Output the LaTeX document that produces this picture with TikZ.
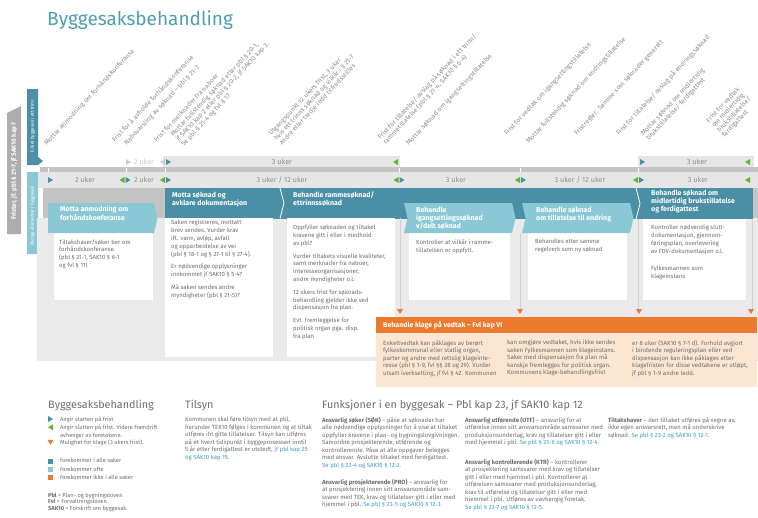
\documentclass[tikz,border=0pt]{standalone}
\usepackage{fontspec}
\setmainfont{Fira Sans}
\usetikzlibrary{positioning}

\definecolor{tealdark}{HTML}{4A8FA5}
\definecolor{teallight}{HTML}{8BC8D5}
\definecolor{titleteal}{HTML}{4E9EB5}
\definecolor{arrgreen}{HTML}{5DB531}
\definecolor{orng}{HTML}{EC7A2E}
\definecolor{peach}{HTML}{FCE6D2}
\definecolor{gbar}{HTML}{E6E6E6}
\definecolor{gmid}{HTML}{C4C4C4}
\definecolor{gpanel}{HTML}{EAEAEA}
\definecolor{gtab}{HTML}{ADADAD}
\definecolor{gline}{HTML}{D2D2D2}
\definecolor{gtxt}{HTML}{6E6E6E}
\definecolor{glbl}{HTML}{8E8E8E}
\definecolor{gfade}{HTML}{CBCBCB}
\definecolor{linkteal}{HTML}{3E9FC0}

\tikzset{
  rarr/.pic={\fill[tealdark] (0,-3) -- (5,0) -- (0,3) -- cycle;},
  larr/.pic={\fill[arrgreen] (0,-3) -- (-5,0) -- (0,3) -- cycle;},
  rarrf/.pic={\fill[gfade] (0,-3) -- (5,0) -- (0,3) -- cycle;},
  larrf/.pic={\fill[gfade] (0,-3) -- (-5,0) -- (0,3) -- cycle;},
  darr/.pic={\fill[orng] (-3,0) -- (3,0) -- (0,5) -- cycle;},
}

\begin{document}
\begin{tikzpicture}[x=1pt, y=-1pt,
  hdr/.style={anchor=north west, inner sep=0pt, align=left, text=white, font=\fontsize{7}{8.3}\selectfont\bfseries},
  txt/.style={anchor=north west, inner sep=0pt, align=left, text=gtxt, font=\fontsize{6}{7.9}\selectfont},
  rlab/.style={anchor=south west, inner sep=0pt, align=left, rotate=47, text=glbl, font=\fontsize{6.6}{7.2}\selectfont},
  uker/.style={inner sep=0pt, text=glbl, font=\fontsize{7.2}{8}\selectfont},
  tabtxt/.style={inner sep=0pt, rotate=90, text=white},
  leg/.style={anchor=north west, inner sep=0pt, align=left, text=gtxt, font=\fontsize{6}{7.5}\selectfont},
  legb/.style={anchor=north west, inner sep=0pt, align=left, text=gtxt, font=\fontsize{5.7}{7.8}\selectfont},
  leghd/.style={anchor=base west, inner sep=0pt, text=gtxt, font=\fontsize{10.8}{12}\selectfont},
]
\useasboundingbox[fill=white] (0,0) rectangle (758,517);

\node[anchor=base west, inner sep=0pt, text=titleteal, font=\fontsize{19}{21}\selectfont] (ttl) at (47,25) {Byggesaksbehandling};

% skrå merkelapper
\node[rlab] (l1) at (48,147) {Mottar anmodning om forhåndskonferanse};
\node[rlab] (l2) at (115,143) {Frist for å avholde forhåndskonferanse};
\node[rlab] (l3) at (128,147) {Nabovarsling av søknad – pbl § 21-3};
\node[rlab] (l4) at (157,143) {Frist for merknader fra naboer};
\node[rlab] (l5) at (185,148) {Mottar fullstendig søknad etter pbl § 20-1,\\jf SAK10 kap 2 eller pbl § 20-2, jf SAK10 kap 3.\\Se pbl § 21-4 og fvl § 17};
\node[rlab] (l6) at (283,147) {Utgangspunkt 12 ukers frist, 3 uker\\hvis ett trinns søknad og vilkår i § 21-7\\andre eller tredje ledd tilfredsstilles};
\node[rlab] (l7) at (387,146) {Frist for tillatelse/ avslag på søknad i ett trinn/\\rammetillatelse (pbl § 21-4, SAK10 § 6-4)};
\node[rlab] (l8) at (410,147) {Mottar søknad om igangsettingstillatelse};
\node[rlab] (l9) at (508,137) {Frist for vedtak om igangsettingstillatelse};
\node[rlab] (l10) at (530,145) {Mottar fullstendig søknad om endringstillatelse};
\node[rlab] (l11) at (578,137) {Fristregler: Samme som søknader generelt};
\node[rlab] (l12) at (620,137) {Frist for tillatelse/ avslag på endringssøknad};
\node[rlab] (l13) at (650,142) {Mottar søknad om midlertidig\\brukstillatelse/ ferdigattest};
\node[rlab] (l14) at (726,139) {Frist for vedtak\\om midlertidig\\brukstillatelse/\\ferdigattest};

% faner til venstre
\fill[gtab] (7,113) -- (21,106) -- (21,234) -- (7,234) -- cycle;
\node[tabtxt, font=\fontsize{6.3}{7}\selectfont\bfseries] (frist) at (14,171) {Frister, jf. pbl § 21-7, jf SAK10 kap 7};
\fill[tealdark] (27,89) -- (38,89) -- (38,157) -- (43,161) -- (38,165) -- (27,165) -- cycle;
\node[tabtxt, font=\fontsize{4.6}{5}\selectfont] (enkel) at (32.5,126) {Enkel byggesak i ett trinn};
\fill[teallight] (27,172) -- (38,172) -- (38,175) -- (43,179.5) -- (38,184) -- (38,254) -- (27,254) -- cycle;
\node[tabtxt, font=\fontsize{4.6}{5}\selectfont] (mulige) at (32.5,216) {Mulige elementer i byggesak};

% tidslinjer
\fill[gbar] (163,156) rectangle (400,167);
\fill[gbar] (638,156) rectangle (754,167);
\fill[gmid] (40,167) rectangle (758,171.5);
\foreach \tx in {48,126,165,399,520,638}
  \draw[white, line width=0.6pt] (\tx,168) -- (\tx,171.5);
\fill[gbar] (38,171.5) rectangle (758,188);

\pic at (126,162) {rarrf};
\node[uker, text=gfade] (w0) at (144,162) {2 uker};
\pic at (165,162) {larrf};
\pic at (166,162) {rarr};
\node[uker] (w1) at (282,162) {3 uker};
\pic at (398,162) {larr};
\pic at (640,162) {rarr};
\node[uker] (w2) at (697,162) {3 uker};
\pic at (750,162) {larr};

\pic at (48,180) {rarr};
\node[uker] (m1) at (85,180) {2 uker};
\pic at (124.5,180) {larr};
\pic at (125.5,180) {rarr};
\node[uker] (m2) at (144,180) {2 uker};
\pic at (165,180) {larr};
\pic at (166,180) {rarr};
\node[uker] (m3) at (282,180) {3 uker / 12 uker};
\pic at (398.5,180) {larr};
\pic at (399.5,180) {rarr};
\node[uker] (m4) at (456,180) {3 uker};
\pic at (520,180) {larr};
\pic at (521,180) {rarr};
\node[uker] (m5) at (580,180) {3 uker / 12 uker};
\pic at (638,180) {larr};
\pic at (639,180) {rarr};
\node[uker] (m6) at (698,180) {3 uker};
\pic at (750,180) {larr};

% bakgrunn og bokser
\fill[gpanel] (37,218) rectangle (758,361);
\fill[gmid] (43,188) rectangle (758,218);
\fill[tealdark] (165,188) rectangle (753,219);
\draw[white, line width=0.8pt] (280,188) -- (284,203) -- (280,218.5);
\draw[white, line width=0.8pt] (636,188) -- (640,203.5) -- (636,219);

\foreach \lx/\ly in {400/218, 520/233, 638.5/219, 752/219}
  \draw[gline, line width=1pt] (\lx,\ly) -- (\lx,311);

\fill[white] (54,233) rectangle (153,300);
\fill[white] (165,218) rectangle (273,357);
\fill[white] (287,218) rectangle (395,357);
\fill[white] (409,233) rectangle (510,300);
\fill[white] (528,233) rectangle (627,300);
\fill[white] (643,219) rectangle (746,300);

\fill[teallight] (48,203) -- (154,203) -- (157.5,218) -- (154,233) -- (48,233) -- cycle;
\fill[teallight] (404,203) -- (512,203) -- (515.5,218) -- (512,233) -- (404,233) -- (407.5,218) -- cycle;
\fill[teallight] (522,203) -- (630,203) -- (633.5,218) -- (630,233) -- (522,233) -- (525.5,218) -- cycle;

\node[hdr] (hA) at (60,206) {Motta anmodning om\\forhåndskonferanse};
\node[hdr] (hB) at (172,191.5) {Motta søknad og\\avklare dokumentasjon};
\node[hdr] (hC) at (293,191.5) {Behandle rammesøknad/\\ettrinnssøknad};
\node[hdr] (hD) at (416,206.5) {Behandle\\igangsettingssøknad\\v/delt søknad};
\node[hdr] (hE) at (536,206.5) {Behandle søknad\\om tillatelse til endring};
\node[hdr] (hF) at (651,189.5) {Behandle søknad om\\midlertidig brukstillatelse\\og ferdigattest};

\node[txt] (bA) at (59,239) {Tiltakshaver/søker ber om\\forhåndskonferanse.\\(pbl § 21-1, SAK10 § 6-1\\og fvl § 11)};
\node[txt] (bB) at (171,220) {Saken registreres, mottatt\\brev sendes. Vurder krav\\ift. vann, avløp, avfall\\og opparbeidelse av vei\\(pbl § 18-1 og § 27-1 til § 27-4).\\[4.5pt]Er nødvendige opplysninger\\innkommet jf SAK10 § 5-4?\\[4.5pt]Må saken sendes andre\\myndigheter (pbl § 21-5)?};
\node[txt] (bC) at (293,225) {Oppfyller søknaden og tiltaket\\kravene gitt i eller i medhold\\av pbl?\\[4.5pt]Vurder tiltakets visuelle kvaliteter,\\samt merknader fra naboer,\\interesseorganisasjoner,\\andre myndigheter o.l.\\[4.5pt]12 ukers frist for søknads-\\behandling gjelder ikke ved\\dispensasjon fra plan.\\[4.5pt]Evt. fremleggelse for\\politisk organ pga. disp.\\fra plan};
\node[txt] (bD) at (416,239) {Kontroller at vilkår i ramme-\\tillatelsen er oppfylt.};
\node[txt] (bE) at (535,239) {Behandles etter samme\\regelverk som ny søknad};
\node[txt] (bF) at (651,225) {Kontroller nødvendig slutt-\\dokumentasjon, gjennom-\\føringsplan, overlevering\\av FDV-dokumentasjon o.l.\\[9pt]Fylkesmannen som\\klageinstans};

% klage
\foreach \kx in {400,520,639,751}
  \pic at (\kx,309) {darr};
\fill[peach] (376,333) rectangle (757,387);
\fill[orng] (376,317) rectangle (757,333);
\node[hdr] (hK) at (383,321.5) {Behandle klage på vedtak – Fvl kap VI};
\node[txt, font=\fontsize{6.1}{7.5}\selectfont] (k1) at (383,340) {Enkeltvedtak kan påklages av berørt\\fylkeskommunal eller statlig organ,\\parter og andre med rettslig klageinte-\\resse (pbl § 1-9, fvl §§ 28 og 29). Vurder\\utsatt iverksetting, jf fvl § 42. Kommunen};
\node[txt, font=\fontsize{6.1}{7.5}\selectfont] (k2) at (507,340) {kan omgjøre vedtaket, hvis ikke sendes\\saken Fylkesmannen som klageinstans.\\Saker med dispensasjon fra plan må\\kanskje fremlegges for politisk organ.\\Kommunens klage-behandlingsfrist};
\node[txt, font=\fontsize{6.1}{7.5}\selectfont] (k3) at (632,340) {er 8 uker (SAK10 § 7-1 d). Forhold avgjort\\i bindende reguleringsplan eller ved\\dispensasjon kan ikke påklages etter\\klagefristen for disse vedtakene er utløpt,\\jf pbl § 1-9 andre ledd.};

% forklaring
\node[leghd] (g1) at (48,408.5) {Byggesaksbehandling};
\node[leghd] (g2) at (185,408.5) {Tilsyn};
\node[leghd] (g3) at (322,408.5) {Funksjoner i en byggesak – Pbl kap 23, jf SAK10 kap 12};

\pic at (48,419) {rarr};
\pic at (53,427.3) {larr};
\pic at (50.5,439.8) {darr};
\fill[tealdark] (48,458.5) rectangle (53,463.5);
\fill[teallight] (48,466.5) rectangle (53,471.5);
\fill[orng] (48,475) rectangle (53,480);
\node[legb] (e1) at (60,416.5) {Angir starten på frist};
\node[legb] (e2) at (60,424.8) {Angir slutten på frist. Videre framdrift\\avhenger av foretakene.};
\node[legb] (e3) at (60,439.8) {Mulighet for klage (3 ukers frist).};
\node[legb, font=\fontsize{5.7}{8.5}\selectfont] (e4) at (60,458.2) {forekommer i alle saker\\forekommer ofte\\forekommer ikke i alle saker};
\node[legb, font=\fontsize{5.7}{6.8}\selectfont] (e5) at (48,492.5) {\textbf{Pbl} = Plan- og bygningsloven\\\textbf{Fvl} = Forvaltningsloven\\\textbf{SAK10} = Forskrift om byggesak};

\node[leg] (t1) at (185,417) {Kommunen skal føre tilsyn med at pbl,\\herunder TEK10 følges i kommunen og at tiltak\\utføres iht gitte tillatelser. Tilsyn kan utføres\\på et hvert tidspunkt i byggeprosessen inntil\\5 år etter ferdigattest er utstedt, \textcolor{linkteal}{jf pbl kap 25}\\\textcolor{linkteal}{og SAK10 kap 15.}};

\node[leg] (f1) at (322,417) {\textbf{Ansvarlig søker (SØK)} – påse at søknader har\\alle nødvendige opplysninger for å vise at tiltaket\\oppfyller kravene i plan- og bygningslovgivningen.\\Samordne prosjekterende, utførende og\\kontrollerende. Påse at alle oppgaver belegges\\med ansvar. Avslutte tiltaket med ferdigattest.\\\textcolor{linkteal}{Se pbl § 23-4 og SAK10 § 12-2.}};
\node[leg] (f2) at (322,479) {\textbf{Ansvarlig prosjekterende (PRO)} – ansvarlig for\\at prosjektering innen sitt ansvarsområde sam-\\svarer med TEK, krav og tillatelser gitt i eller med\\hjemmel i pbl. \textcolor{linkteal}{Se pbl § 23-5 og SAK10 § 12-3.}};
\node[leg] (f3) at (465,417) {\textbf{Ansvarlig utførende (UTF)} – ansvarlig for at\\utførelse innen sitt ansvarsområde samsvarer med\\produksjonsunderlag, krav og tillatelser gitt i eller\\med hjemmel i pbl. \textcolor{linkteal}{Se pbl § 23-6 og SAK10 § 12-4.}};
\node[leg] (f4) at (465,459) {\textbf{Ansvarlig kontrollerende (KTR)} – kontrollerer\\at prosjektering samsvarer med krav og tillatelser\\gitt i eller med hjemmel i pbl. Kontrollerer at\\utførelsen samsvarer med produksjonsunderlag,\\krav til utførelse og tillatelser gitt i eller med\\hjemmel i pbl. Utføres av uavhengig foretak.\\\textcolor{linkteal}{Se pbl § 23-7 og SAK10 § 12-5.}};
\node[leg] (f5) at (608,417) {\textbf{Tiltakshaver} – den tiltaket utføres på vegne av,\\ikke egen ansvarsrett, men må underskrive\\søknad. \textcolor{linkteal}{Se pbl § 23-2 og SAK10 § 12-1.}};
\end{tikzpicture}
\end{document}
